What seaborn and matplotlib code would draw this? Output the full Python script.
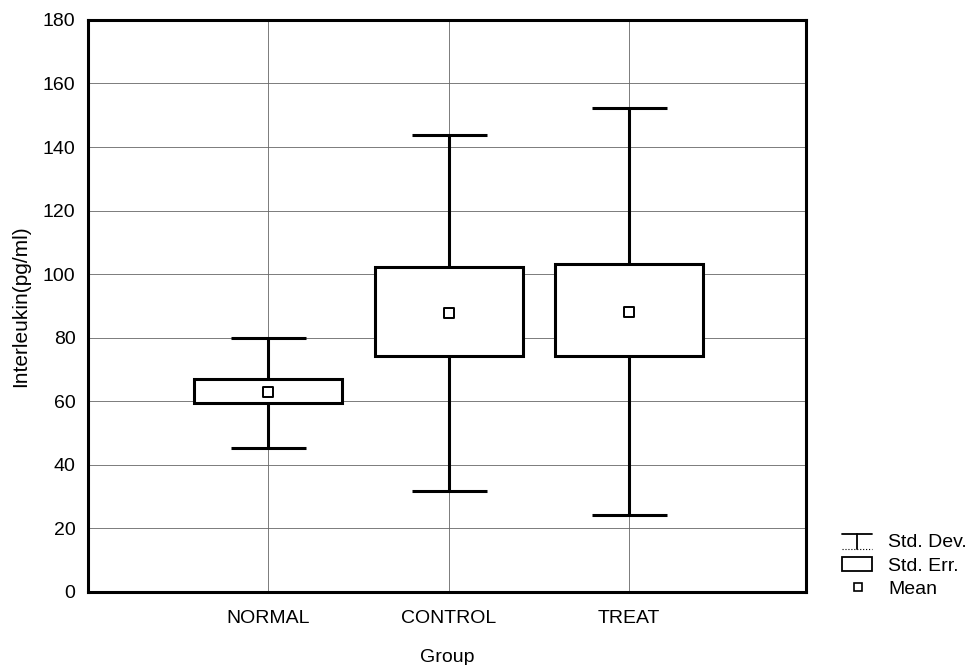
import matplotlib
matplotlib.use("Agg")
import matplotlib.pyplot as plt
import seaborn as sns
import numpy as np
import pandas as pd
from matplotlib.legend_handler import HandlerBase
from matplotlib.lines import Line2D
from matplotlib.patches import Rectangle

# values
groups = ["NORMAL", "CONTROL", "TREAT"]
mean_vals = [63.0, 87.8, 88.1]
se_low = [59.5, 74.3, 74.3]
se_high = [67.0, 102.3, 103.2]
sd_low = [45.3, 31.8, 24.2]
sd_high = [80.0, 143.8, 152.3]

df = pd.DataFrame({"group": groups, "mean": mean_vals,
                   "se_low": se_low, "se_high": se_high,
                   "sd_low": sd_low, "sd_high": sd_high})
df["pos"] = np.arange(len(groups))

sns.set_style("white")
plt.rcParams["font.family"] = ["Liberation Sans", "DejaVu Sans"]
plt.rcParams["text.color"] = "black"
plt.rcParams["axes.labelcolor"] = "black"
plt.rcParams["xtick.color"] = "black"
plt.rcParams["ytick.color"] = "black"

fig = plt.figure(figsize=(9.72, 6.65), dpi=100)
ax = fig.add_axes([0.0905, 0.110, 0.7385, 0.860])

# whiskers (std. dev.)
ax.errorbar(df["pos"], df["mean"],
            yerr=[df["mean"] - df["sd_low"], df["sd_high"] - df["mean"]],
            fmt="none", ecolor="black", elinewidth=2.2, capsize=27, capthick=2.2, zorder=2)
# boxes (std. err.)
ax.bar(df["pos"], df["se_high"] - df["se_low"], bottom=df["se_low"], width=0.82,
       facecolor="white", edgecolor="black", linewidth=2.2, zorder=3)
# means
sns.scatterplot(data=df, x="pos", y="mean", marker="s", s=55, color="white",
                edgecolor="black", linewidth=1.4, zorder=4, ax=ax, legend=False)

ax.set_xlim(-1.0, 2.98)
ax.set_ylim(0, 180)
ax.set_yticks(np.arange(0, 181, 20))
ax.set_xticks(df["pos"])
ax.set_xticklabels(groups)
ax.set_yticks(np.arange(0, 181, 5), minor=True)
ax.grid(True, which="major", color="#666666", linewidth=0.6)
ax.set_axisbelow(True)
ax.tick_params(axis="both", which="major", direction="in", length=4, width=1.2,
               labelsize=14, pad=9)
ax.tick_params(axis="x", which="major", pad=13)
ax.tick_params(axis="y", which="minor", direction="in", length=2, width=1)
for s in ax.spines.values():
    s.set_linewidth(2.2)
    s.set_color("black")
ax.set_xlabel("Group", fontsize=14, labelpad=16)
ax.set_ylabel("Interleukin(pg/ml)", fontsize=15, labelpad=9)


class SDHandler(HandlerBase):
    def create_artists(self, legend, orig_handle, xd, yd, width, height, fontsize, trans):
        x0, x1 = xd + 2, xd + width - 4
        xm = (x0 + x1) / 2
        top = yd + height
        bot = yd - 1
        return [Line2D([x0, x1], [top, top], color="black", lw=1.3, transform=trans),
                Line2D([xm, xm], [top, bot], color="black", lw=1.3, transform=trans),
                Line2D([x0, x1], [bot, bot], color="black", lw=0.8, ls=":", transform=trans)]


class SEHandler(HandlerBase):
    def create_artists(self, legend, orig_handle, xd, yd, width, height, fontsize, trans):
        r = Rectangle((xd + 2, yd), width - 6, height, facecolor="white",
                      edgecolor="black", lw=1.3, transform=trans)
        return [r]


sd_h = Line2D([], [], color="black")
se_h = Rectangle((0, 0), 1, 1)
mean_h = Line2D([], [], marker="s", ls="none", markersize=6, markerfacecolor="white",
                markeredgecolor="black", markeredgewidth=1.2)
fig.legend([sd_h, se_h, mean_h], ["Std. Dev.", "Std. Err.", "Mean"],
           handler_map={sd_h: SDHandler(), se_h: SEHandler()},
           loc="lower left", bbox_to_anchor=(0.845, 0.074), frameon=False,
           fontsize=14, handlelength=2.0, handletextpad=0.55, labelspacing=0.3)

fig.savefig("out.png", dpi=100)
